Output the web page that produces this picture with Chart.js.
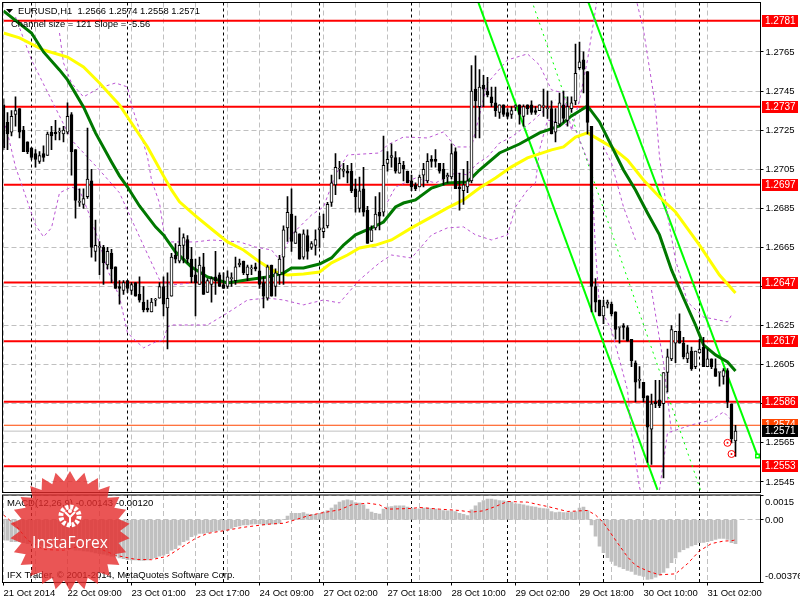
<!DOCTYPE html>
<html>
<head>
<meta charset="utf-8">
<title>EURUSD,H1</title>
<script src="https://cdn.jsdelivr.net/npm/chart.js@4"></script>
<style>
html, body { margin: 0; padding: 0; background: #fff; overflow: hidden; }
#wrap { position: relative; width: 800px; height: 600px; background: #fff; }
canvas { position: absolute; left: 0; }
#price { top: 0; }
#macd { top: 493px; }
#logo { position: absolute; left: 0; top: 465px; }
</style>
</head>
<body>
<div id="wrap">
  <canvas id="price" width="800" height="493"></canvas>
  <canvas id="macd" width="800" height="107"></canvas>
  <svg id="logo" width="140" height="135" viewBox="0 465 140 135" xmlns="http://www.w3.org/2000/svg">
    <polygon id="star" fill="#e52b2b" fill-opacity="0.8"></polygon>
    <circle cx="70" cy="516" r="9" fill="none" stroke="#fff" stroke-width="5" stroke-dasharray="3 1.7"></circle>
    <circle cx="70" cy="516" r="6.5" fill="#e8494a"></circle>
    <circle cx="70" cy="511" r="2" fill="#fff"></circle>
    <path d="M65 512 L70 517 L75 512 M70 517 L70 526" fill="none" stroke="#fff" stroke-width="2"></path>
    <text x="70" y="548" fill="#fff" font-family="Open Sans" font-size="15.5" text-anchor="middle">InstaForex</text>
  </svg>
</div>
<script>
const opens = [
  1.2738,1.2729,1.2724,1.2733,1.2736,1.2725,1.2719,1.2716,1.2713,1.2709,
  1.2713,1.2712,1.2724,1.2724,1.2724,1.2723,1.2724,1.2733,1.2715,1.2688,
  1.2687,1.2691,1.2699,1.2663,1.2665,1.2665,1.2656,1.2662,1.2655,1.2645,
  1.2643,1.2648,1.2643,1.2647,1.2641,1.2637,1.2634,1.2632,1.2638,1.2639,
  1.2645,1.2634,1.2640,1.2661,1.2658,1.2666,1.2669,1.2659,1.2651,1.2646,
  1.2655,1.2642,1.2646,1.2650,1.2651,1.2646,1.2645,1.2649,1.2648,1.2656,
  1.2658,1.2651,1.2654,1.2655,1.2653,1.2647,1.2639,1.2656,1.2645,1.2651,
  1.2660,1.2675,1.2682,1.2667,1.2672,1.2660,1.2671,1.2665,1.2666,1.2674,
  1.2673,1.2676,1.2688,1.2697,1.2705,1.2704,1.2704,1.2704,1.2695,1.2685,
  1.2695,1.2684,1.2668,1.2675,1.2683,1.2683,1.2708,1.2711,1.2711,1.2703,
  1.2707,1.2704,1.2699,1.2697,1.2696,1.2702,1.2699,1.2710,1.2710,1.2708,
  1.2705,1.2701,1.2701,1.2714,1.2696,1.2694,1.2696,1.2699,1.2746,1.2737,
  1.2748,1.2745,1.2742,1.2739,1.2734,1.2738,1.2734,1.2733,1.2737,1.2738,
  1.2732,1.2738,1.2738,1.2735,1.2735,1.2737,1.2736,1.2736,1.2724,1.2728,
  1.2738,1.2730,1.2736,1.2740,1.2757,1.2761,1.2755,1.2727,1.2645,1.2638,
  1.2630,1.2636,1.2636,1.2632,1.2624,1.2625,1.2624,1.2618,1.2606,1.2597,
  1.2596,1.2589,1.2572,1.2586,1.2587,1.2585,1.2601,1.2608,1.2616,1.2622,
  1.2616,1.2608,1.2612,1.2604,1.2611,1.2614,1.2604,1.2608,1.2603,1.2601,
  1.2599,1.2602,1.2585,1.2566
];
const highs = [
  1.2741,1.2734,1.2735,1.2742,1.2736,1.2727,1.2719,1.2716,1.2715,1.2714,
  1.2717,1.2724,1.2727,1.2730,1.2726,1.2727,1.2739,1.2734,1.2715,1.2695,
  1.2695,1.2726,1.2705,1.2679,1.2668,1.2666,1.2665,1.2664,1.2655,1.2648,
  1.2648,1.2648,1.2647,1.2647,1.2650,1.2645,1.2638,1.2639,1.2639,1.2647,
  1.2650,1.2652,1.2662,1.2667,1.2675,1.2672,1.2671,1.2665,1.2659,1.2660,
  1.2662,1.2649,1.2650,1.2663,1.2652,1.2652,1.2653,1.2652,1.2660,1.2659,
  1.2658,1.2656,1.2656,1.2657,1.2664,1.2650,1.2656,1.2656,1.2654,1.2661,
  1.2676,1.2691,1.2695,1.2681,1.2672,1.2674,1.2674,1.2668,1.2674,1.2681,
  1.2682,1.2688,1.2702,1.2713,1.2709,1.2708,1.2707,1.2708,1.2700,1.2701,
  1.2706,1.2686,1.2676,1.2691,1.2693,1.2722,1.2714,1.2718,1.2714,1.2711,
  1.2709,1.2704,1.2702,1.2698,1.2702,1.2708,1.2713,1.2712,1.2715,1.2708,
  1.2708,1.2703,1.2718,1.2716,1.2703,1.2705,1.2709,1.2758,1.2763,1.2756,
  1.2753,1.2752,1.2747,1.2747,1.2738,1.2738,1.2736,1.2737,1.2738,1.2738,
  1.2738,1.2738,1.2740,1.2737,1.2738,1.2746,1.2745,1.2740,1.2736,1.2744,
  1.2745,1.2742,1.2742,1.2769,1.2770,1.2765,1.2755,1.2727,1.2649,1.2638,
  1.2638,1.2638,1.2637,1.2632,1.2624,1.2626,1.2625,1.2618,1.2607,1.2604,
  1.2596,1.2589,1.2590,1.2597,1.2597,1.2601,1.2613,1.2625,1.2622,1.2631,
  1.2619,1.2615,1.2614,1.2612,1.2618,1.2619,1.2613,1.2608,1.2608,1.2601,
  1.2603,1.2603,1.2585,1.2574
];
const lows = [
  1.2715,1.2715,1.2722,1.2727,1.2721,1.2714,1.2713,1.2710,1.2706,1.2708,
  1.2709,1.2712,1.2715,1.2720,1.2720,1.2719,1.2723,1.2702,1.2680,1.2686,
  1.2685,1.2690,1.2660,1.2658,1.2651,1.2646,1.2654,1.2647,1.2644,1.2636,
  1.2641,1.2642,1.2641,1.2640,1.2637,1.2632,1.2632,1.2632,1.2635,1.2639,
  1.2630,1.2613,1.2640,1.2657,1.2657,1.2657,1.2657,1.2647,1.2630,1.2646,
  1.2641,1.2642,1.2637,1.2641,1.2645,1.2644,1.2644,1.2645,1.2646,1.2655,
  1.2651,1.2648,1.2651,1.2653,1.2644,1.2634,1.2638,1.2640,1.2640,1.2646,
  1.2646,1.2668,1.2663,1.2667,1.2659,1.2659,1.2659,1.2664,1.2661,1.2665,
  1.2670,1.2675,1.2686,1.2692,1.2700,1.2701,1.2698,1.2693,1.2683,1.2683,
  1.2681,1.2667,1.2668,1.2674,1.2674,1.2681,1.2704,1.2706,1.2703,1.2703,
  1.2699,1.2698,1.2694,1.2694,1.2696,1.2696,1.2698,1.2706,1.2706,1.2703,
  1.2697,1.2698,1.2700,1.2695,1.2684,1.2687,1.2693,1.2698,1.2721,1.2721,
  1.2737,1.2742,1.2737,1.2732,1.2731,1.2732,1.2731,1.2731,1.2735,1.2728,
  1.2727,1.2733,1.2733,1.2733,1.2735,1.2732,1.2731,1.2723,1.2719,1.2727,
  1.2729,1.2727,1.2734,1.2738,1.2756,1.2744,1.2723,1.2632,1.2632,1.2630,
  1.2626,1.2634,1.2630,1.2618,1.2616,1.2618,1.2617,1.2604,1.2586,1.2593,
  1.2586,1.2555,1.2554,1.2583,1.2583,1.2547,1.2591,1.2607,1.2606,1.2616,
  1.2608,1.2606,1.2602,1.2603,1.2611,1.2604,1.2604,1.2603,1.2599,1.2594,
  1.2595,1.2583,1.2565,1.2558
];
const closes = [
  1.2716,1.2723,1.2732,1.2735,1.2724,1.2714,1.2714,1.2711,1.2710,1.2712,
  1.2711,1.2723,1.2722,1.2723,1.2724,1.2725,1.2732,1.2714,1.2689,1.2688,
  1.2690,1.2700,1.2665,1.2666,1.2665,1.2657,1.2663,1.2654,1.2644,1.2644,
  1.2647,1.2644,1.2646,1.2640,1.2638,1.2633,1.2633,1.2637,1.2638,1.2645,
  1.2636,1.2639,1.2660,1.2659,1.2666,1.2670,1.2659,1.2650,1.2647,1.2656,
  1.2641,1.2648,1.2649,1.2648,1.2645,1.2644,1.2650,1.2649,1.2655,1.2657,
  1.2652,1.2655,1.2654,1.2654,1.2646,1.2640,1.2655,1.2640,1.2652,1.2659,
  1.2674,1.2683,1.2668,1.2673,1.2659,1.2672,1.2663,1.2667,1.2669,1.2675,
  1.2675,1.2687,1.2698,1.2706,1.2705,1.2705,1.2703,1.2694,1.2691,1.2694,
  1.2683,1.2667,1.2674,1.2682,1.2681,1.2707,1.2710,1.2712,1.2704,1.2708,
  1.2705,1.2698,1.2696,1.2695,1.2701,1.2705,1.2709,1.2709,1.2709,1.2704,
  1.2700,1.2702,1.2713,1.2695,1.2695,1.2697,1.2699,1.2745,1.2740,1.2747,
  1.2746,1.2743,1.2739,1.2735,1.2738,1.2733,1.2732,1.2735,1.2737,1.2733,
  1.2737,1.2736,1.2734,1.2734,1.2738,1.2737,1.2736,1.2723,1.2729,1.2739,
  1.2731,1.2737,1.2739,1.2754,1.2760,1.2756,1.2729,1.2645,1.2637,1.2630,
  1.2635,1.2637,1.2631,1.2623,1.2624,1.2624,1.2617,1.2607,1.2596,1.2597,
  1.2588,1.2573,1.2585,1.2585,1.2584,1.2601,1.2609,1.2623,1.2622,1.2616,
  1.2609,1.2611,1.2603,1.2612,1.2613,1.2604,1.2608,1.2604,1.2599,1.2601,
  1.2602,1.2586,1.2567,1.2571
];

// moving averages at the listed bars
const fastBars = [0,7,10,14,16,20,23,27,29,31,34,38,40,43,47,51,56,61,66,70,72,75,79,82,85,88,92,95,98,100,103,107,111,116,119,124,129,134,139,142,146,149,151,155,158,161,164,167,170,173,175,178,181,183];
const fastValues = [1.27860,1.27747,1.27650,1.27558,1.27507,1.27369,1.27236,1.27087,1.27016,1.26959,1.26862,1.26755,1.26714,1.26627,1.26550,1.26499,1.26468,1.26484,1.26499,1.26519,1.26545,1.26545,1.26565,1.26596,1.26662,1.26714,1.26750,1.26780,1.26857,1.26877,1.26893,1.26954,1.26980,1.26985,1.27046,1.27133,1.27179,1.27236,1.27271,1.27323,1.27374,1.27292,1.27210,1.27046,1.26944,1.26826,1.26714,1.26535,1.26391,1.26253,1.26151,1.26100,1.26064,1.26018];
const slowBars = [0,4,10,16,20,24,29,33,36,40,42,44,48,52,56,60,64,68,71,75,79,82,86,89,93,97,102,107,111,115,119,123,127,131,137,140,143,146,149,152,156,160,164,168,174,179,183];
const slowValues = [1.27747,1.27722,1.27660,1.27624,1.27573,1.27491,1.27379,1.27256,1.27164,1.27016,1.26944,1.26883,1.26811,1.26744,1.26678,1.26637,1.26576,1.26524,1.26509,1.26514,1.26524,1.26571,1.26611,1.26647,1.26662,1.26688,1.26750,1.26806,1.26852,1.26893,1.26954,1.27005,1.27062,1.27108,1.27149,1.27164,1.27215,1.27236,1.27200,1.27164,1.27097,1.26995,1.26908,1.26831,1.26662,1.26509,1.26417];

// purple dashed envelopes, null marks where a line leaves the chart
const upperBars = [14,15,17,20,24,28,31,32,34,36,37,39,40,41,48,52,59,63,67,69,72,77,80,83,86,94,96,100,106,110,113,117,119,121,126,131,134,137,140,142,144,146,148,149,150,157,160,163,164,166,168,171,175,181,182];
const upperValues = [1.27747,1.27594,1.27491,1.27420,1.27466,1.27491,1.27471,1.27379,1.27251,1.27113,1.26995,1.26877,1.26740,1.26678,1.26678,1.26688,1.26678,1.26652,1.26637,1.26586,1.26714,1.26816,1.26857,1.27021,1.27123,1.27133,1.27174,1.27215,1.27210,1.27241,1.27164,1.27164,1.27328,1.27491,1.27609,1.27640,1.27583,1.27456,1.27440,1.27251,1.27404,1.27609,1.27865,1.28018,null,1.28018,1.27763,1.27369,1.27113,1.26816,1.26586,1.26371,1.26294,1.26269,1.26304];
const lowerBars = [0,1,3,5,8,10,12,14,17,19,21,24,26,29,31,35,38,40,41,42,51,56,61,66,70,75,80,84,89,94,97,102,107,111,115,118,122,126,128,131,133,134,136,141,143,147,148,149,152,156,157,159,161,162,163,164,166,172,177,180,182];
const lowerValues = [1.27302,1.27236,1.27062,1.26944,1.26765,1.26704,1.26750,1.26929,1.26959,1.26944,1.26842,1.26673,1.26535,1.26397,1.26212,1.26136,1.26166,1.26177,1.26243,1.26253,1.26253,1.26315,1.26381,1.26391,1.26381,1.26356,1.26381,1.26366,1.26484,1.26571,1.26611,1.26596,1.26714,1.26750,1.26755,1.26714,1.26688,1.26714,1.26857,1.26944,1.26980,1.27149,1.27302,1.27277,1.27251,1.27046,1.26637,1.26345,1.26228,1.25921,1.25701,1.25424,1.25256,null,1.25256,1.25409,1.25701,1.25742,1.25767,1.25808,1.25767];
const thirdBars = [3,7,12,17,24,29,34,39,42,47,48,96,98,103,108,113,116,118,121,124,127,132,138,139,150,152,155,158,159,162,165,166,167];
const thirdValues = [1.27829,1.27609,1.27404,1.27200,1.27046,1.26929,1.26704,1.26484,1.26458,1.26468,null,1.26883,1.26959,1.27005,1.26980,1.27031,1.27021,1.27072,1.27113,1.27184,1.27215,1.27292,1.27404,null,1.27164,1.27082,1.26857,1.26688,null,1.26432,1.26059,1.25885,1.25701];

// regression channel
const channelUpperBars = [146, 188.5];
const channelUpperValues = [1.27916, 1.25583];
const channelMiddleBars = [132, 174.25];
const channelMiddleValues = [1.27916, 1.25409];
const channelLowerBars = [118.75, 163.5];
const channelLowerValues = [1.27901, 1.25409];

const levels = [1.2781, 1.2737, 1.2697, 1.2647, 1.2617, 1.2586, 1.2553];
const priceTicks = [1.2765, 1.2745, 1.2725, 1.2705, 1.2685, 1.2665, 1.2645, 1.2625, 1.2605, 1.2585, 1.2565, 1.2545];
const bidPrice = 1.2571;
const askPrice = 1.2574;
const fractalBars = [181, 182];
const fractalValues = [1.25650, 1.25593];
const dayBreaks = [7, 31, 55, 79, 102, 126, 150, 174];

const timeLabels = ['21 Oct 2014', '22 Oct 09:00', '23 Oct 01:00', '23 Oct 17:00', '24 Oct 09:00', '27 Oct 02:00', '27 Oct 18:00', '28 Oct 10:00', '29 Oct 02:00', '29 Oct 18:00', '30 Oct 10:00', '31 Oct 02:00'];

const macdValues = [
  -0.00121,-0.00121,-0.00131,-0.00131,-0.00131,-0.00137,-0.00142,-0.00142,-0.00146,-0.00152,
  -0.00158,-0.00162,-0.00166,-0.00166,-0.00166,-0.00168,-0.00172,-0.00174,-0.00182,-0.00182,
  -0.00186,-0.00188,-0.00192,-0.00198,-0.00202,-0.00206,-0.00212,-0.00218,-0.00222,-0.00228,
  -0.00233,-0.00239,-0.00241,-0.00241,-0.00243,-0.00243,-0.00241,-0.00233,-0.00226,-0.00218,
  -0.00212,-0.00202,-0.00182,-0.00172,-0.00152,-0.00131,-0.00121,-0.00101,-0.00091,-0.00081,
  -0.00081,-0.00077,-0.00071,-0.00067,-0.00061,-0.00061,-0.00061,-0.00051,-0.00040,-0.00036,
  -0.00030,-0.00030,-0.00026,-0.00024,-0.00024,-0.00030,-0.00026,-0.00024,-0.00024,-0.00020,
  0.00004,0.00024,0.00040,0.00040,0.00040,0.00044,0.00036,0.00034,0.00034,0.00040,
  0.00047,0.00057,0.00071,0.00091,0.00107,0.00117,0.00121,0.00117,0.00105,0.00101,
  0.00091,0.00065,0.00047,0.00040,0.00036,0.00065,0.00077,0.00081,0.00085,0.00085,
  0.00085,0.00077,0.00071,0.00065,0.00067,0.00071,0.00071,0.00069,0.00065,0.00061,
  0.00057,0.00055,0.00055,0.00051,0.00040,0.00034,0.00026,0.00061,0.00085,0.00105,
  0.00117,0.00125,0.00125,0.00121,0.00117,0.00115,0.00111,0.00107,0.00097,0.00095,
  0.00091,0.00085,0.00081,0.00077,0.00071,0.00069,0.00067,0.00051,0.00044,0.00047,
  0.00044,0.00044,0.00047,0.00051,0.00071,0.00077,0.00057,-0.00030,-0.00097,-0.00158,
  -0.00196,-0.00226,-0.00249,-0.00273,-0.00283,-0.00293,-0.00303,-0.00309,-0.00328,-0.00334,
  -0.00340,-0.00358,-0.00354,-0.00344,-0.00330,-0.00315,-0.00289,-0.00257,-0.00228,-0.00192,
  -0.00178,-0.00168,-0.00156,-0.00148,-0.00137,-0.00135,-0.00131,-0.00125,-0.00117,-0.00111,
  -0.00111,-0.00117,-0.00137,-0.00143
];
const signalBars = [0,3,6,10,15,20,24,28,33,37,41,44,48,51,55,60,66,67,70,72,76,79,84,87,91,94,96,102,104,109,114,117,120,123,126,131,134,136,141,146,148,150,153,156,158,161,164,168,171,174,177,180,182,183];
const signalValues = [0.00030,-0.00030,-0.00121,-0.00178,-0.00182,-0.00152,-0.00172,-0.00212,-0.00237,-0.00239,-0.00218,-0.00172,-0.00111,-0.00081,-0.00065,-0.00044,-0.00026,-0.00024,-0.00020,-0.00006,0.00024,0.00040,0.00061,0.00091,0.00101,0.00091,0.00065,0.00069,0.00075,0.00065,0.00057,0.00047,0.00055,0.00081,0.00111,0.00107,0.00091,0.00081,0.00051,0.00057,0.00030,-0.00016,-0.00121,-0.00222,-0.00273,-0.00307,-0.00330,-0.00324,-0.00263,-0.00186,-0.00142,-0.00127,-0.00125,-0.00120];
const macdTicks = [0.0015, 0, -0.00376];
const macdTickLabels = ['0.0015', '0.00', '-0.00376'];

const lastBar = 189.25;
const FONT = '9.5px "Liberation Sans"';
const GRID = '#c0c0c0';

function points(xs, ys) {
    return xs.map((x, i) => ({ x: x, y: ys[i] }));
}

function lineSet(xs, ys, color, width, dash, order) {
    return {
        type: 'line',
        data: points(xs, ys),
        borderColor: color,
        borderWidth: width,
        borderDash: dash || [],
        pointRadius: 0,
        tension: 0,
        order: order
    };
}

function xAxis(showLabels) {
    return {
        type: 'linear',
        min: 0,
        max: lastBar,
        offset: false,
        afterBuildTicks: scale => {
            const ticks = [];
            for (let v = 0; v <= 183; v += 8) ticks.push({ value: v });
            scale.ticks = ticks;
        },
        afterFit: scale => {
            scale.height = showLabels ? 17.5 : 0;
            scale.paddingLeft = 0;
            scale.paddingRight = 0;
        },
        border: { display: false, dash: [5, 3] },
        grid: {
            color: GRID,
            offset: false,
            drawTicks: showLabels,
            tickLength: 3,
            tickBorderDash: [],
            tickColor: ctx => (ctx.tick && ctx.tick.value % 16 === 0 ? '#000' : 'transparent')
        },
        ticks: {
            display: showLabels,
            autoSkip: false,
            maxRotation: 0,
            align: 'start',
            padding: 2,
            color: '#000',
            font: { family: 'Liberation Sans', size: 9.5 },
            callback: v => (v % 16 === 0 ? timeLabels[v / 16] : '')
        }
    };
}

function yFit(scale) {
    scale.width = 39.5;
    scale.paddingTop = 0;
    scale.paddingBottom = 0;
}

function drawDayBreaks(chart) {
    const ctx = chart.ctx;
    const area = chart.chartArea;
    ctx.save();
    ctx.strokeStyle = '#000';
    ctx.lineWidth = 1;
    ctx.setLineDash([3, 3]);
    dayBreaks.forEach(bar => {
        const x = chart.scales.x.getPixelForValue(bar);
        ctx.beginPath();
        ctx.moveTo(x, area.top);
        ctx.lineTo(x, area.bottom);
        ctx.stroke();
    });
    ctx.restore();
}

function drawFrame(chart) {
    const ctx = chart.ctx;
    const area = chart.chartArea;
    ctx.save();
    ctx.strokeStyle = '#000';
    ctx.lineWidth = 1;
    ctx.strokeRect(area.left - 1, area.top, area.right - area.left + 1, area.bottom - area.top);
    ctx.restore();
}

function drawTag(chart, value, color) {
    const ctx = chart.ctx;
    const y = chart.scales.y.getPixelForValue(value);
    ctx.fillStyle = color;
    ctx.fillRect(762, Math.round(y) - 6, 36, 12);
    ctx.fillStyle = '#fff';
    ctx.font = '10px "Liberation Sans"';
    ctx.textAlign = 'left';
    ctx.textBaseline = 'middle';
    ctx.fillText(value.toFixed(4), 765, Math.round(y) + 0.5);
}

const pricePlugin = {
    id: 'pricePane',
    beforeDatasetsDraw: drawDayBreaks,
    afterDraw(chart) {
        const ctx = chart.ctx;
        drawFrame(chart);
        ctx.save();
        drawTag(chart, askPrice, '#ff4500');
        levels.forEach(level => drawTag(chart, level, '#ff0000'));
        drawTag(chart, bidPrice, '#000000');

        ctx.fillStyle = '#000';
        ctx.beginPath();
        ctx.moveTo(6, 9);
        ctx.lineTo(13, 9);
        ctx.lineTo(9.5, 13);
        ctx.fill();
        ctx.font = '9.4px "Liberation Sans"';
        ctx.textAlign = 'left';
        ctx.textBaseline = 'middle';
        ctx.fillText('EURUSD,H1  1.2566 1.2574 1.2558 1.2571', 18, 11);
        ctx.fillText('Channel size = 121 Slope = -5.56', 11, 24);
        ctx.restore();
    }
};

const macdPlugin = {
    id: 'macdPane',
    beforeDatasetsDraw: drawDayBreaks,
    afterDraw(chart) {
        const ctx = chart.ctx;
        drawFrame(chart);
        ctx.save();
        ctx.fillStyle = '#000';
        ctx.font = FONT;
        ctx.textBaseline = 'middle';
        ctx.textAlign = 'left';
        macdTickLabels.forEach((label, i) => {
            let y = chart.scales.y.getPixelForValue(macdTicks[i]);
            if (i === 0) y += 7;
            if (i === 2) y -= 6;
            ctx.fillText(label, 765, y);
        });
        ctx.fillText('MACD(12,26,9) -0.00143 -0.00120', 7, 10);
        ctx.fillText('IFX Trader, \u00a9 2001-2014, MetaQuotes Software Corp.', 7, 82);
        ctx.restore();
    }
};

const levelSets = levels.map(level => lineSet([0, lastBar], [level, level], '#ff0000', 2, [], 6));
const channelEnd = lineSet(channelUpperBars, channelUpperValues, '#00ff00', 2, [], 5);
channelEnd.pointStyle = 'rect';
channelEnd.pointRadius = [0, 2.5];
channelEnd.pointBackgroundColor = '#fff';
channelEnd.pointBorderColor = '#00ff00';
channelEnd.pointBorderWidth = 1.5;

new Chart(document.getElementById('price'), {
    type: 'bar',
    data: {
        datasets: [
            {
                data: opens.map((o, i) => ({ x: i, y: [o, closes[i]] })),
                barThickness: 3,
                minBarLength: 1,
                grouped: false,
                borderWidth: 1,
                borderSkipped: false,
                borderColor: '#000',
                backgroundColor: opens.map((o, i) => (closes[i] >= o ? '#fff' : '#000')),
                order: 0
            },
            {
                data: opens.map((o, i) => ({ x: i, y: [lows[i], highs[i]] })),
                barThickness: 1,
                grouped: false,
                backgroundColor: '#000',
                order: 1
            },
            {
                type: 'line',
                data: points(fractalBars, fractalValues),
                showLine: false,
                pointRadius: 3.5,
                pointBackgroundColor: '#fff',
                pointBorderColor: '#ff0000',
                pointBorderWidth: 1,
                order: -1
            },
            {
                type: 'line',
                data: points(fractalBars, fractalValues),
                showLine: false,
                pointRadius: 1,
                pointBackgroundColor: '#ff0000',
                pointBorderWidth: 0,
                order: -2
            },
            lineSet(fastBars, fastValues, '#007800', 3, [], 2),
            lineSet(slowBars, slowValues, '#ffff00', 3, [], 3),
            lineSet(upperBars, upperValues, '#ba55d3', 1, [3, 3], 4),
            lineSet(lowerBars, lowerValues, '#ba55d3', 1, [3, 3], 4),
            lineSet(thirdBars, thirdValues, '#ba55d3', 1, [3, 3], 4),
            channelEnd,
            lineSet(channelMiddleBars, channelMiddleValues, '#00ff00', 1, [2, 4], 5),
            lineSet(channelLowerBars, channelLowerValues, '#00ff00', 2, [], 5),
            lineSet([0, lastBar], [askPrice, askPrice], '#ff4500', 1, [], 7),
            lineSet([0, lastBar], [bidPrice, bidPrice], '#c0c0c0', 1, [], 7),
            ...levelSets
        ]
    },
    options: {
        responsive: false,
        animation: false,
        events: [],
        layout: { autoPadding: false, padding: { left: 3.5, top: 2.5, right: 0, bottom: 0.5 } },
        plugins: { legend: { display: false }, tooltip: { enabled: false } },
        scales: {
            x: xAxis(false),
            y: {
                position: 'right',
                min: 1.25396,
                max: 1.27903,
                afterBuildTicks: scale => { scale.ticks = priceTicks.map(v => ({ value: v })); },
                afterFit: yFit,
                border: { display: false, dash: [5, 3] },
                grid: { color: GRID, tickLength: 3, tickColor: '#000', tickBorderDash: [] },
                ticks: {
                    autoSkip: false,
                    padding: 2,
                    color: '#000',
                    font: { family: 'Liberation Sans', size: 9.5 },
                    callback: v => v.toFixed(4)
                }
            }
        }
    },
    plugins: [pricePlugin]
});

new Chart(document.getElementById('macd'), {
    type: 'bar',
    data: {
        datasets: [
            {
                data: macdValues.map((v, i) => ({ x: i, y: v })),
                barThickness: 3,
                grouped: false,
                backgroundColor: '#c0c0c0',
                order: 1
            },
            lineSet(signalBars, signalValues, '#ff0000', 1, [3, 3], 0)
        ]
    },
    options: {
        responsive: false,
        animation: false,
        events: [],
        layout: { autoPadding: false, padding: { left: 3.5, top: 2, right: 0, bottom: 0 } },
        plugins: { legend: { display: false }, tooltip: { enabled: false } },
        scales: {
            x: xAxis(true),
            y: {
                position: 'right',
                min: -0.00376,
                max: 0.0015,
                afterBuildTicks: scale => { scale.ticks = macdTicks.map(v => ({ value: v })); },
                afterFit: yFit,
                border: { display: false, dash: [5, 3] },
                grid: { color: GRID, tickLength: 3, tickColor: '#000', tickBorderDash: [] },
                ticks: { display: false }
            }
        }
    },
    plugins: [macdPlugin]
});

// starburst badge over the lower left corner
const starPoints = [];
for (let i = 0; i < 52; i++) {
    const r = i % 2 === 0 ? 60 : 50;
    const a = Math.PI * i / 26;
    starPoints.push((70 + r * Math.sin(a)).toFixed(1) + ',' + (531 - r * Math.cos(a)).toFixed(1));
}
document.getElementById('star').setAttribute('points', starPoints.join(' '));
</script>
</body>
</html>
